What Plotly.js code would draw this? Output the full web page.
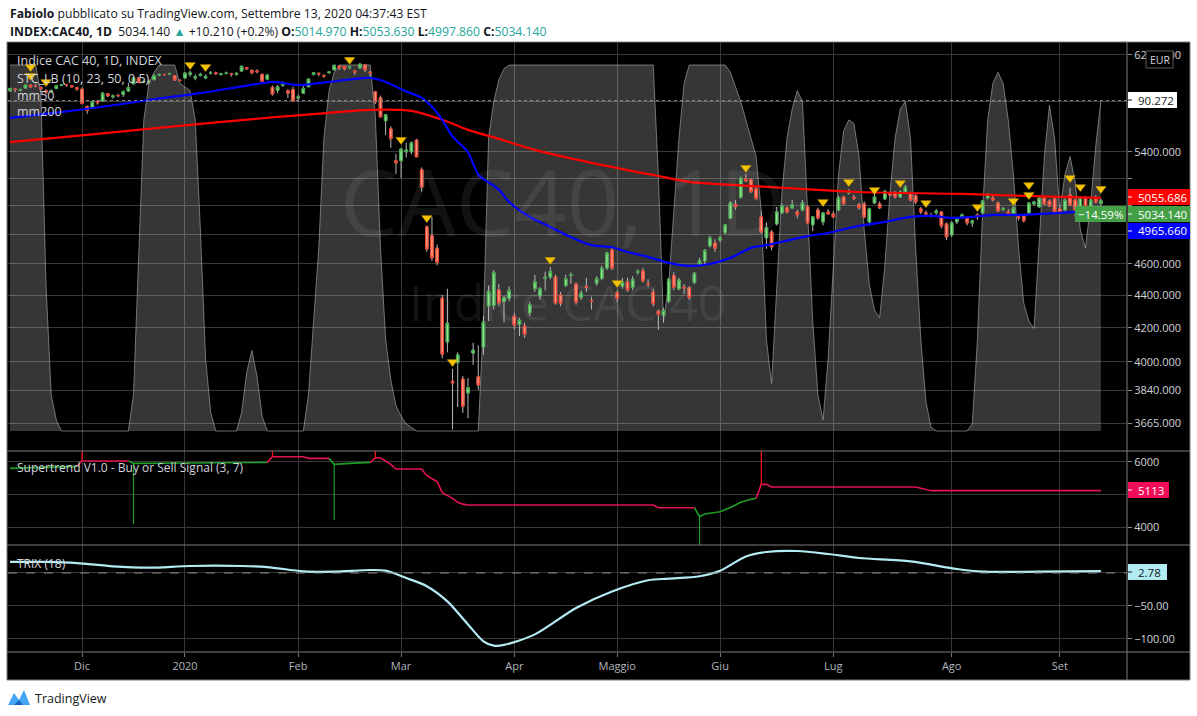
<!DOCTYPE html>
<html><head><meta charset="utf-8">
<script src="https://cdn.plot.ly/plotly-3.0.1.min.js"></script>
<style>html,body{margin:0;padding:0;background:#fff;}#chart{width:1197px;height:716px;}</style>
</head><body><div id="chart"></div>
<script>
// ---------------- DATA ----------------
const openP = [
5891,5905,5896,5914,5938,5934,5920,5890,5885,5910,5938,5944,5935,5918,
5905,5760,5745,5800,5805,5868,5840,5852,5860,5890,5950,6000,5965,5965,5985,6025,6030,6035,6020,5980,
6000,6030,6000,6020,6000,6040,6045,6030,6040,6035,6030,6060,6090,6065,6060,6030,5990,5920,5895,5935,5890,5900,
5830,5870,5925,6030,6040,6022,6045,6070,6104,6100,6090,6060,6087,6113,6050,5882,5832,5644,5579,5330,
5330,5398,5400,5490,5262,4850,4790,4705,4380,4115,3890,3995,3903,3826,4050,3915,4085,4332,4335,4432,4360,4380,
4270,4220,4210,4290,4440,4395,4505,4515,4515,4400,4460,4525,4470,4385,4455,4365,4475,4505,4573,4693,
4415,4455,4483,4450,4545,4555,4475,4420,4300,4275,4360,4525,4440,4450,4445,4480,4600,4620,4720,4740,
4760,4810,4910,5010,5060,5195,5190,5120,4920,4775,4815,4870,4948,4984,4984,4955,4969,4991,4864,4969,4885,4955,
4941,4969,5062,5091,5060,5005,5012,4885,5019,5012,5048,5091,5091,5062,5098,5091,5070,4977,4948,4930,4948,4955,4871,
4795,4885,4920,4913,4878,4934,4948,5055,5055,5019,4972,4955,4941,4920,4927,4948,5012,4991,5055,5033,5048,
4977,4969,5077,5040,4991,5055,4991,5048,5014.97];
const highP = [
5915,5912,5910,5940,5945,5952,5927,5905,5904,5938,5950,5950,5940,5925,
5921,5770,5810,5815,5880,5872,5860,5866,5895,5960,6010,6010,5985,5985,6030,6038,6035,6045,6025,5990,
6050,6065,6030,6045,6030,6060,6055,6045,6055,6045,6050,6105,6095,6075,6075,6040,6035,5935,5940,5970,5905,5925,
5860,5935,5995,6050,6045,6030,6060,6113,6112,6105,6098,6070,6125,6118,6060,5890,5850,5700,5600,5384,
5430,5470,5480,5500,5280,4860,4920,4730,4400,4440,3960,4055,3920,3908,4110,4095,4270,4460,4560,4470,4395,4455,
4290,4260,4230,4360,4528,4450,4550,4580,4530,4420,4530,4545,4480,4430,4510,4390,4520,4590,4680,4710,
4430,4510,4510,4520,4565,4575,4500,4440,4310,4320,4510,4545,4510,4470,4455,4545,4640,4700,4790,4765,
4790,4870,5030,5040,5210,5230,5200,5140,4960,4880,4830,4990,5015,4995,5040,4970,5040,5000,4925,4985,4955,4975,
4960,5070,5070,5120,5080,5020,5030,4985,5090,5030,5110,5100,5105,5110,5150,5100,5085,4990,4965,4950,4975,4960,4880,
4890,4920,4945,4925,4900,4945,5040,5090,5070,5030,4990,4975,4995,4935,4940,5025,5035,5060,5070,5045,5060,
4990,5050,5130,5050,5065,5070,5050,5075,5053.63];
const lowP = [
5880,5878,5885,5912,5915,5920,5880,5860,5870,5905,5930,5925,5918,5890,
5780,5700,5740,5775,5800,5840,5825,5838,5840,5880,5945,5960,5955,5950,5980,6015,6020,6025,5975,5970,
5995,6010,5980,6015,5990,6030,6025,6020,6030,6010,6020,6055,6070,6030,6040,5960,5980,5850,5870,5925,5830,5800,
5800,5865,5920,6020,6015,6000,6035,6065,6070,6065,6075,6025,6080,6050,6010,5780,5670,5530,5430,5231,
5200,5355,5380,5360,5100,4680,4620,4590,4020,4055,3632,3750,3718,3690,3982,3843,4040,4240,4310,4330,4230,4360,
4190,4150,4140,4270,4420,4370,4430,4500,4340,4330,4450,4470,4340,4370,4420,4310,4460,4495,4560,4560,
4355,4440,4420,4430,4530,4480,4450,4330,4186,4230,4350,4430,4430,4410,4370,4470,4590,4600,4710,4680,
4745,4800,4905,4970,5050,5170,5090,5040,4805,4700,4690,4860,4940,4945,4975,4910,4960,4870,4820,4900,4860,4935,
4910,4960,5005,5080,5040,4970,4910,4860,5010,4975,5040,5065,5050,5055,5090,5030,5010,4940,4920,4915,4935,4840,4760,
4780,4870,4905,4860,4850,4900,4940,5045,5030,4955,4960,4930,4935,4895,4880,4940,5000,4985,5005,4990,4950,
4940,4960,4995,4920,4980,4960,4980,5015,4997.86];
const closeP = [
5911,5901,5901,5939,5924,5933,5908,5878,5893,5935,5944,5941,5924,5905,
5786,5727,5799,5792,5871,5848,5848,5850,5885,5919,6000,5960,5968,5968,6021,6030,6029,6037,5983,5978,
6041,6044,6013,6031,6013,6042,6037,6036,6041,6032,6039,6101,6078,6045,6054,5971,6024,5863,5925,5954,5871,5806,
5840,5910,5990,6044,6035,6018,6052,6110,6087,6078,6095,6052,6120,6070,6044,5798,5676,5692,5501,5315,
5420,5414,5470,5360,5134,4700,4640,4610,4044,4228,3881,4040,3754,3855,4068,3870,4234,4425,4545,4351,4385,4430,
4215,4245,4160,4340,4484,4440,4515,4550,4350,4350,4505,4530,4355,4413,4450,4360,4505,4573,4673,4573,
4380,4483,4433,4500,4552,4490,4470,4345,4280,4305,4500,4450,4496,4445,4385,4540,4620,4690,4775,4705,
4775,4865,5020,4993,5200,5180,5100,5050,4815,4843,4714,4955,4998,4955,5005,4934,5019,4878,4920,4913,4948,4941,
4920,5055,5012,5098,5052,4984,4920,4977,5062,4984,5105,5077,5062,5098,5134,5040,5026,4955,4941,4927,4962,4857,4781,
4878,4913,4934,4878,4892,4920,5033,5077,5040,4962,4977,4941,4984,4913,4892,5019,5026,5055,5012,4998,4955,
4948,5040,5005,4969,5055,4991,5040,5024,5034.14];

// moving averages (bar index, value)
const ma50Idx = [0,9,18,28,38,46,51,56,62,70,73,77,80,82,84,86,89,91,93,95,97,101,105,109,113,117,120,124,128,132,136,140,144,147,155,159,164,170,175,179,183,187,191,197,204,212];
const ma50Val = [5667,5710,5758,5820,5878,5935,5966,5940,5966,6000,5966,5886,5832,5758,5652,5519,5397,5225,5169,5115,5026,4920,4850,4780,4725,4711,4679,4647,4607,4587,4600,4640,4707,4725,4787,4808,4850,4885,4920,4927,4913,4920,4934,4934,4948,4965.66];
const ma200Idx = [0,17,37,52,62,70,78,84,89,95,102,113,126,132,148,165,185,204,212];
const ma200Val = [5475,5539,5619,5675,5708,5733,5725,5652,5571,5500,5414,5315,5216,5172,5134,5098,5084,5062,5055.686];

// STC oscillator (0..100)
const stcIdx = [0,5,6,7,8,9,10,23,24,25,26,27,28,29,32,33,34,35,36,37,38,39,40,44,45,46,47,48,49,50,57,58,59,60,61,62,63,64,70,71,72,73,74,75,76,77,78,79,91,92,93,94,95,96,97,125,126,127,128,129,130,131,132,139,140,141,142,143,144,145,146,147,148,149,150,151,152,153,154,155,156,157,158,159,160,161,162,163,164,165,166,167,168,169,170,171,172,173,174,175,176,177,178,179,180,186,187,188,189,190,191,192,193,194,195,196,197,198,199,200,201,202,203,204,205,206,207,208,209,210,211,212];
const stcVal = [100,100,92,40,10,3,0,0,10,50,85,95,98,100,100,95,94,93,85,55,20,5,0,0,5,16,22,15,4,0,0,10,30,50,80,93,98,100,100,86,50,25,14,7,4,2,1,0,0,30,80,90,96,99,100,100,70,30,40,60,80,95,100,100,98,94,90,85,80,75,60,25,13,40,65,80,88,93,90,60,30,10,3,20,45,70,82,85,84,75,55,40,33,31,45,65,80,88,90,80,50,25,8,1,0,0,2,25,60,85,95,98,95,85,70,50,35,30,28,50,75,89,80,60,70,75,68,55,50,62,78,90.272];

// Supertrend vertices: index, value, trend (u = up/green, d = down/red)
const stIdx = [0,5,10,13, 14,23, 24,35,45,50, 51,57,58,62, 63,66,70, 71,72,73,74,75,80,81,82,83,84,85,86,87,88,89,125,126,133, 134,135,136,138,140,142,144,145, 146,147,148,176,177,178,179,212];
const stVal = [5796,5820,5840,5857, 6020,6020, 5949,5960,5970,5980, 6153,6153,6102,6102, 5918,5950,5980, 6122,6122,6020,5918,5776,5776,5571,5480,5388,5051,4960,4878,4755,4700,4673,4673,4592,4592, 4316,4400,4418,4469,4600,4760,4847,4878, 5306,5306,5224,5224,5190,5150,5113,5113];
const stDir = ['u','u','u','u','d','d','u','u','u','u','d','d','d','d','u','u','u','d','d','d','d','d','d','d','d','d','d','d','d','d','d','d','d','d','d','u','u','u','u','u','u','u','u','d','d','d','d','d','d','d','d'];
const spkIdx = [14,24,51,63,71,134,146];
const spkFrom = [6020,5949,6153,5918,6122,4316,5306];
const spkTo = [6328,4092,6328,4214,6328,3449,6328];
const spkDir = ['d','u','d','u','d','u','d'];

// TRIX (18)
const trixIdx = [0,7,13,20,27,35,45,50,57,63,70,73,77,81,85,89,92,94,96,102,110,117,124,128,134,138,143,147,153,159,165,175,184,189,200,212];
const trixVal = [16.7,16.7,15,10,8,10.6,10.6,9,2.5,2,4.5,3.5,-7.6,-20,-43,-78,-103.5,-110,-109,-93,-53,-28,-11,-8.6,-5,3.5,25,31.8,33.3,28.8,22.7,17.7,6,2,2,2.78];

// STC signal triangles (bar index, price level)
const sigIdx = [4,4,7,35,38,66,76,81,86,105,118,143,158,163,168,173,178,188,195,198,198,206,208,212];
const sigPrice = [6095,6018,5966,6113,6095,6157,5493,4913,3999,4627,4477,5277,5026,5172,5113,5164,5018,4990,5033,5149,5077,5201,5134,5121];

// axis ticks (labels hidden behind the value tags are left blank)
const priceTicks = [3665,3840,4000,4200,4400,4600,4800,5000,5200,5400,5800,6200];
const priceTickText = ['3665.000','3840.000','4000.000','4200.000','4400.000','4600.000','','','','5400.000','','6200.000'];
const stTicks = [4000,5000,6000];
const stTickText = ['4000','','6000'];
const trixTicks = [-100,-50,0];
const trixTickText = ['\u2212100.00','\u221250.00',''];
const monthTicks = ['2019-12-02','2020-01-02','2020-02-03','2020-03-02','2020-04-01','2020-05-04','2020-06-01','2020-07-01','2020-08-03','2020-09-01'];
const monthLabels = ['Dic','2020','Feb','Mar','Apr','Maggio','Giu','Lug','Ago','Set'];
const holidays = ['2019-12-25','2019-12-26','2020-01-01','2020-04-10','2020-04-13','2020-05-01'];

// ---------------- BUILD ----------------
function tradingDays(start, n){
  const out=[]; const d=new Date(start+'T12:00:00Z');
  while(out.length<n){ const wd=d.getUTCDay(); const s=d.toISOString().slice(0,10);
    if(wd!==0 && wd!==6 && !holidays.includes(s)) out.push(s); d.setUTCDate(d.getUTCDate()+1); }
  return out;
}
const N = closeP.length;
const dates = tradingDays('2019-11-12', N);
const D = i => dates[i];
const bodyHi = openP.map((o,i)=>Math.max(o,closeP[i]));
const bodyLo = openP.map((o,i)=>Math.min(o,closeP[i]));

function buildST(){
  const up={x:[],y:[]}, dn={x:[],y:[]}; let prev=null;
  for(let k=0;k<stIdx.length;k++){
    const d=stDir[k]; const t=d==='u'?up:dn; const o=d==='u'?dn:up;
    if(prev && prev.d!==d){ o.x.push(null); o.y.push(null); t.x.push(null); t.y.push(null); t.x.push(D(prev.i)); t.y.push(prev.v); }
    t.x.push(D(stIdx[k])); t.y.push(stVal[k]); prev={i:stIdx[k],v:stVal[k],d:d};
  }
  return [up,dn];
}
const [stUp, stDn] = buildST();
const spU={x:[],y:[]}, spD={x:[],y:[]};
spkIdx.forEach((ix,k)=>{ const t = spkDir[k]==='u'?spU:spD; t.x.push(D(ix),D(ix),null); t.y.push(spkFrom[k],spkTo[k],null); });

const GREEN='#1f9d27', CRIMSON='#e2134f';
const traces = [
  {type:'scatter', mode:'lines', x:stcIdx.map(D), y:stcVal, xaxis:'x', yaxis:'y', fill:'tozeroy',
   fillcolor:'rgba(255,255,255,0.21)', line:{color:'rgba(190,190,190,0.55)', width:1}, hoverinfo:'skip'},
  {type:'candlestick', x:dates, open:openP, high:highP, low:lowP, close:closeP, xaxis:'x', yaxis:'y4',
   increasing:{line:{color:'#b8b8b8',width:1}, fillcolor:'rgba(0,0,0,0)'},
   decreasing:{line:{color:'#b8b8b8',width:1}, fillcolor:'rgba(0,0,0,0)'}, whiskerwidth:0, hoverinfo:'skip'},
  {type:'candlestick', x:dates, open:openP, high:bodyHi, low:bodyLo, close:closeP, xaxis:'x', yaxis:'y4',
   increasing:{line:{color:'#3daa47',width:1}, fillcolor:'#8fe08f'},
   decreasing:{line:{color:'#ee3b27',width:1}, fillcolor:'#f89a80'}, whiskerwidth:0, hoverinfo:'skip'},
  {type:'scatter', mode:'lines', x:ma200Idx.map(D), y:ma200Val, xaxis:'x', yaxis:'y4', line:{color:'#ff0000', width:2.2, shape:'spline', smoothing:0.8}, hoverinfo:'skip'},
  {type:'scatter', mode:'lines', x:ma50Idx.map(D), y:ma50Val, xaxis:'x', yaxis:'y4', line:{color:'#0000ff', width:2.2, shape:'spline', smoothing:0.8}, hoverinfo:'skip'},
  {type:'scatter', mode:'markers', x:sigIdx.map(D), y:sigPrice, xaxis:'x', yaxis:'y4',
   marker:{symbol:'triangle-down', size:9, color:'#f5c400', line:{color:'#c99a00', width:0.6}}, hoverinfo:'skip'},
  {type:'scatter', mode:'lines', x:stUp.x, y:stUp.y, xaxis:'x', yaxis:'y2', line:{color:GREEN, width:1.6}, connectgaps:false, hoverinfo:'skip'},
  {type:'scatter', mode:'lines', x:stDn.x, y:stDn.y, xaxis:'x', yaxis:'y2', line:{color:CRIMSON, width:1.6}, connectgaps:false, hoverinfo:'skip'},
  {type:'scatter', mode:'lines', x:spU.x, y:spU.y, xaxis:'x', yaxis:'y2', line:{color:GREEN, width:1.2}, connectgaps:false, hoverinfo:'skip'},
  {type:'scatter', mode:'lines', x:spD.x, y:spD.y, xaxis:'x', yaxis:'y2', line:{color:'#ff1010', width:1.2}, connectgaps:false, hoverinfo:'skip'},
  {type:'scatter', mode:'lines', x:trixIdx.map(D), y:trixVal, xaxis:'x', yaxis:'y3', line:{color:'#b2ebf2', width:2.2, shape:'spline', smoothing:0.8}, hoverinfo:'skip'}
];

// pixel -> paper helpers (plot area: x 8..1127, y 43..652)
const PX = v => (v-8)/1119;
const PY = v => (652-v)/609;
const FONT = '"Open Sans", "Noto Sans", sans-serif';
const GRID = '#383838', FRAME = '#7c7c7c';

function hline(x0,x1,y,color,w){ return {type:'line', xref:'paper', yref:'paper', x0:PX(x0), x1:PX(x1), y0:PY(y), y1:PY(y), line:{color:color, width:w||1}, layer:'above'}; }
function vline(x,y0,y1,color,w){ return {type:'line', xref:'paper', yref:'paper', x0:PX(x), x1:PX(x), y0:PY(y0), y1:PY(y1), line:{color:color, width:w||1}, layer:'above'}; }
function rect(x0,x1,y0,y1,fill,layer,lineColor){ return {type:'rect', xref:'paper', yref:'paper', x0:PX(x0), x1:PX(x1), y0:PY(y1), y1:PY(y0), fillcolor:fill, line:{width:lineColor?1:0, color:lineColor||fill}, layer:layer||'above'}; }
function txt(x,y,text,size,color,anchor,extra){ return Object.assign({xref:'paper', yref:'paper', x:PX(x), y:PY(y), xanchor:anchor||'left', yanchor:'middle', text:text, showarrow:false, font:{family:FONT, size:size, color:color}}, extra||{}); }

const shapes = [
  rect(1127,1190,42,680,'#000000','below'),
  rect(7,1127,652,680,'#000000','below'),
  rect(7,8,42,680,'#000000','below'),
  rect(7,1190,42,43,'#000000','below'),
  {type:'line', xref:'paper', x0:0, x1:1, yref:'y', y0:90.272, y1:90.272, line:{color:'#8a8a8a', width:1, dash:'dot'}},
  {type:'line', xref:'paper', x0:0, x1:1, yref:'y4', y0:Math.log10(5034.14), y1:Math.log10(5034.14), line:{color:'#43a047', width:1, dash:'dot'}},
  {type:'line', xref:'paper', x0:0, x1:1, yref:'y3', y0:0, y1:0, line:{color:'#8a8a8a', width:1, dash:'dash'}},
  hline(7,1190,42,FRAME), hline(7,1190,680,FRAME), vline(7,42,680,FRAME), vline(1190,42,680,FRAME), vline(1127,42,680,FRAME),
  hline(7,1190,451,FRAME), hline(7,1190,545,FRAME), hline(7,1190,652,FRAME),
  // price labels on the axis
  rect(1128,1177,92,108,'#ffffff'), hline(1128,1132,100,'#131722'),
  rect(1128,1190,189,205,'#ff0000'), hline(1128,1132,197,'#ffffff'),
  rect(1128,1190,206,222,'#43a047'), hline(1128,1132,214,'#ffffff'),
  rect(1128,1190,223,239,'#0000ff'), hline(1128,1132,231,'#ffffff'),
  rect(1075,1126,206,222,'#43a047'),
  rect(1128,1169,482,498,'#f00c57'), hline(1128,1132,490,'#ffffff'),
  rect(1128,1167,564,580,'#b2ebf2'), hline(1128,1132,572,'#131722'),
  rect(1146,1173,51,68,'#000000','above','#5a5a5a'),
  // TradingView logo
  {type:'path', xref:'paper', yref:'paper', layer:'above', fillcolor:'#42a5f5', line:{width:0},
   path:'M '+PX(8)+' '+PY(705)+' L '+PX(14)+' '+PY(693)+' L '+PX(19)+' '+PY(700)+' L '+PX(24)+' '+PY(690)+' L '+PX(30)+' '+PY(705)+' Z'},
  {type:'path', xref:'paper', yref:'paper', layer:'above', fillcolor:'#1565c0', line:{width:0},
   path:'M '+PX(14)+' '+PY(705)+' L '+PX(19)+' '+PY(700)+' L '+PX(23)+' '+PY(705)+' Z'}
];

const TEAL='#26a69a';
const annotations = [
  txt(8,13,'<b>Fabiolo</b> pubblicato su TradingView.com, Settembre 13, 2020 04:37:43 EST',12.2,'#131722'),
  txt(8,31,'<b>INDEX:CAC40, 1D</b>  5034.140 <span style="color:'+TEAL+'">▲</span> +10.210 (+0.2%) <b>O:</b><span style="color:'+TEAL+'">5014.970</span> <b>H:</b><span style="color:'+TEAL+'">5053.630</span> <b>L:</b><span style="color:'+TEAL+'">4997.860</span> <b>C:</b><span style="color:'+TEAL+'">5034.140</span>',12.2,'#131722'),
  txt(33,698,'TradingView',12.5,'#131722'),
  // watermark
  txt(563,200,'CAC40, 1D',92,'rgba(255,255,255,0.07)','center'),
  txt(568,302,'Indice CAC 40',50,'rgba(255,255,255,0.07)','center'),
  // pane legends
  txt(15,61,'Indice CAC 40, 1D, INDEX',12.5,'#d1d4dc'),
  txt(15,78,'STC_LB (10, 23, 50, 0.5)',12.5,'#d1d4dc'),
  txt(15,95,'mm50',12.5,'#d1d4dc'),
  txt(15,112,'mm200',12.5,'#d1d4dc'),
  txt(15,468,'Supertrend V1.0 - Buy or Sell Signal (3, 7)',12,'#d1d4dc'),
  txt(15,563,'TRIX (18)',12,'#d1d4dc'),
  // axis value tags
  txt(1136,100,'90.272',11.5,'#131722'),
  txt(1136,197,'5055.686',11.5,'#ffffff'),
  txt(1136,214,'5034.140',11.5,'#ffffff'),
  txt(1136,231,'4965.660',11.5,'#ffffff'),
  txt(1100,214,'\u221214.59%',11.5,'#ffffff','center'),
  txt(1136,490,'5113',11.5,'#ffffff'),
  txt(1136,572,'2.78',11.5,'#131722'),
  txt(1159.5,59.5,'EUR',10.5,'#d1d4dc','center')
];

const axCommon = {showgrid:true, gridcolor:GRID, gridwidth:1, zeroline:false, showline:false, ticks:'outside', ticklen:4, tickcolor:'#8a8a8a',
  tickfont:{family:FONT, size:11, color:'#d1d4dc'}, fixedrange:true, anchor:'x', side:'right', tickmode:'array'};

const layout = {
  width:1197, height:716, margin:{l:8, r:70, t:43, b:64, pad:0},
  paper_bgcolor:'#ffffff', plot_bgcolor:'#000000', showlegend:false, hovermode:false, dragmode:false,
  font:{family:FONT, size:11, color:'#d1d4dc'},
  xaxis:{type:'category', categoryorder:'array', categoryarray:dates, range:[-0.39,217.07], tickmode:'array',
    tickvals:monthTicks, ticktext:monthLabels, showgrid:true, gridcolor:GRID, ticks:'outside', ticklen:4, tickcolor:'#777',
    tickfont:{family:FONT, size:11, color:'#b2b5be'}, rangeslider:{visible:false}, anchor:'y3', zeroline:false, showline:false, fixedrange:true},
  yaxis:{domain:[0.33005,1], range:[-5.46,106.01], visible:false, fixedrange:true, showgrid:false, zeroline:false},
  yaxis4:Object.assign({}, axCommon, {overlaying:'y', type:'log', range:[3.54673,3.79983], tickvals:priceTicks, ticktext:priceTickText}),
  yaxis2:Object.assign({}, axCommon, {domain:[0.1757,0.33005], range:[3449,6328], tickvals:stTicks, ticktext:stTickText}),
  yaxis3:Object.assign({}, axCommon, {domain:[0,0.1757], range:[-119.7,42.4], tickvals:trixTicks, ticktext:trixTickText}),
  shapes:shapes, annotations:annotations
};

Plotly.newPlot('chart', traces, layout, {displayModeBar:false, staticPlot:true});
</script>
</body></html>
